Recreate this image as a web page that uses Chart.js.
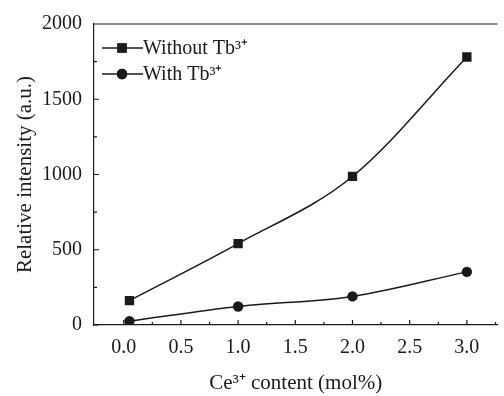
<!DOCTYPE html>
<html>
<head>
<meta charset="utf-8">
<script src="https://cdn.jsdelivr.net/npm/chart.js@4"></script>
<style>
  html, body { margin: 0; padding: 0; background: #fff; }
  #wrap { width: 504px; height: 396px; }
</style>
</head>
<body>
<div id="wrap"><canvas id="ceChart" width="504" height="396"></canvas></div>
<script>
var ceContent = [0.05, 1.0, 2.0, 3.0];
var withoutTb = [162, 541, 987, 1781];
var withTb = [26, 123, 190, 353];
var xTicks = [0, 0.5, 1.0, 1.5, 2.0, 2.5, 3.0];
var yTicks = [0, 500, 1000, 1500, 2000];
var seriesNames = ['Without Tb\u00B3\u207A', 'With Tb\u00B3\u207A'];

var ink = '#1a1a1a';
var serif = '"Liberation Serif", "Times New Roman", serif';

function toPoints(xs, ys) {
    return xs.map(function (x, i) { return { x: x, y: ys[i] }; });
}

// inward major/minor ticks, top frame line and the legend
var framePlugin = {
    id: 'frame',
    afterDraw: function (chart) {
        var ctx = chart.ctx;
        var area = chart.chartArea;
        var xs = chart.scales.x, ys = chart.scales.y;
        ctx.save();
        ctx.strokeStyle = ink;
        ctx.lineWidth = 1.2;
        ctx.beginPath();
        ctx.moveTo(area.left, area.top);
        ctx.lineTo(area.right, area.top);
        xTicks.forEach(function (v, i) {
            var px = xs.getPixelForValue(v);
            ctx.moveTo(px, area.bottom);
            ctx.lineTo(px, area.bottom - 5);
            var mx = xs.getPixelForValue(v + 0.25);
            if (mx < area.right) {
                ctx.moveTo(mx, area.bottom);
                ctx.lineTo(mx, area.bottom - 3);
            }
        });
        yTicks.forEach(function (v) {
            var py = ys.getPixelForValue(v);
            ctx.moveTo(area.left, py);
            ctx.lineTo(area.left + 5, py);
            var my = ys.getPixelForValue(v + 250);
            if (my > area.top) {
                ctx.moveTo(area.left, my);
                ctx.lineTo(area.left + 3, my);
            }
        });
        ctx.stroke();

        // legend
        var styles = ['rect', 'circle'];
        var radii = [6.6, 5.2];
        ctx.font = '20px ' + serif;
        ctx.fillStyle = ink;
        ctx.textBaseline = 'middle';
        seriesNames.forEach(function (name, i) {
            var y = area.top + 24 + i * 26;
            var x0 = area.left + 8;
            ctx.lineWidth = 1.5;
            ctx.beginPath();
            ctx.moveTo(x0, y);
            ctx.lineTo(x0 + 41, y);
            ctx.stroke();
            Chart.helpers.drawPoint(ctx, { pointStyle: styles[i], radius: radii[i], borderWidth: 0 }, x0 + 20, y);
            ctx.fill();
            ctx.fillText(name, x0 + 41, y + 1);
        });
        ctx.restore();
    }
};

var ctx = document.getElementById('ceChart').getContext('2d');
var ceChart = new Chart(ctx, {
    type: 'scatter',
    data: {
        datasets: [{
            label: seriesNames[0],
            data: toPoints(ceContent, withoutTb),
            showLine: true,
            cubicInterpolationMode: 'monotone',
            borderColor: ink,
            borderWidth: 1.5,
            backgroundColor: ink,
            pointStyle: 'rect',
            pointRadius: 6.6,
            pointBorderWidth: 0
        }, {
            label: seriesNames[1],
            data: toPoints(ceContent, withTb),
            showLine: true,
            cubicInterpolationMode: 'monotone',
            borderColor: ink,
            borderWidth: 1.5,
            backgroundColor: ink,
            pointStyle: 'circle',
            pointRadius: 5.2,
            pointBorderWidth: 0
        }]
    },
    options: {
        responsive: false,
        animation: false,
        layout: { padding: { top: 17, right: 0, left: 0, bottom: 0 } },
        plugins: {
            legend: { display: false },
            tooltip: { enabled: false }
        },
        scales: {
            x: {
                type: 'linear',
                min: -0.26,
                max: 3.267,
                afterBuildTicks: function (scale) {
                    scale.ticks = xTicks.map(function (v) { return { value: v }; });
                },
                afterFit: function (scale) { scale.height = 71; },
                grid: { display: false, drawTicks: false },
                border: { display: true, color: ink, width: 1.2 },
                ticks: {
                    color: ink,
                    padding: 11,
                    maxRotation: 0,
                    font: { family: serif, size: 20 },
                    callback: function (v) { return Number(v).toFixed(1); }
                },
                title: {
                    display: true,
                    text: 'Ce\u00B3\u207A content (mol%)',
                    color: ink,
                    font: { family: serif, size: 21 },
                    padding: { top: 0, bottom: 0 }
                }
            },
            y: {
                type: 'linear',
                min: 0,
                max: 2000,
                afterBuildTicks: function (scale) {
                    scale.ticks = yTicks.map(function (v) { return { value: v }; });
                },
                afterFit: function (scale) { scale.width = 94; },
                grid: { display: false, drawTicks: false },
                border: { display: true, color: ink, width: 1.2 },
                ticks: {
                    color: ink,
                    padding: 12,
                    font: { family: serif, size: 20 },
                    callback: function (v) { return String(v); }
                },
                title: {
                    display: true,
                    text: 'Relative intensity (a.u.)',
                    color: ink,
                    font: { family: serif, size: 21 },
                    padding: { top: 13, bottom: 0 }
                }
            }
        }
    },
    plugins: [framePlugin]
});
</script>
</body>
</html>
